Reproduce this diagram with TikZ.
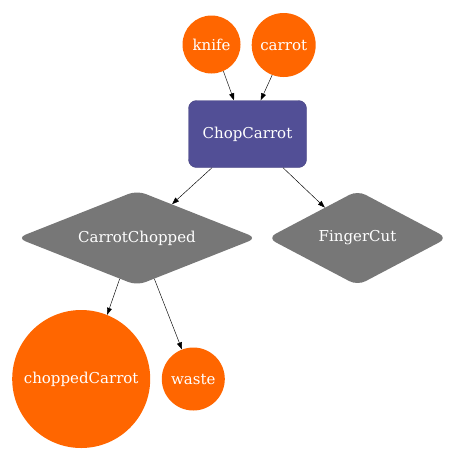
\documentclass[tikz,border=0pt]{standalone}
\usepackage{fontspec}
\setmainfont{DejaVu Serif}
\usetikzlibrary{shapes.geometric,arrows.meta}
\definecolor{orng}{HTML}{FF6600}
\definecolor{slate}{HTML}{524F96}
\definecolor{gry}{HTML}{777777}
\begin{document}
\begin{tikzpicture}[x=1pt,y=-1pt,
  lbl/.style={text=white,font=\fontsize{15}{17}\selectfont,inner sep=0pt},
  res/.style={lbl,circle,fill=orng},
  proc/.style={lbl,rectangle,rounded corners=8pt,fill=slate,draw=slate!85!black,line width=0.4pt,minimum width=118pt,minimum height=67pt},
  cond/.style={lbl,diamond,rounded corners=9pt,fill=gry,shape aspect=2.5,minimum height=95pt},
  arr/.style={-{Triangle[length=7pt,width=5pt]},line width=0.45pt,black}]
\useasboundingbox (0,0) rectangle (474,467);
\node[res,minimum size=58pt] (knife) at (211.5,44.5) {knife};
\node[res,minimum size=64pt] (carrot) at (283.7,45) {carrot};
\node[proc] (chop) at (247.5,134) {ChopCarrot};
\node[cond,minimum width=240pt] (cc) at (137,238) {CarrotChopped};
\node[cond,minimum width=180pt] (fc) at (357.5,238) {FingerCut};
\node[res,minimum size=138pt] (chopped) at (81.2,379) {choppedCarrot};
\node[res,minimum size=63pt] (waste) at (193.3,379) {waste};
\draw[arr] (knife.-66) -- ([xshift=-13.5pt]chop.north);
\draw[arr] (carrot.-111) -- ([xshift=13.2pt]chop.north);
\draw[arr] ([xshift=-35.5pt]chop.south) -- (cc.44);
\draw[arr] ([xshift=35.5pt]chop.south) -- (fc.137);
\draw[arr] (cc.-113) -- (chopped.68);
\draw[arr] (cc.-67) -- (waste.111);
\end{tikzpicture}
\end{document}
